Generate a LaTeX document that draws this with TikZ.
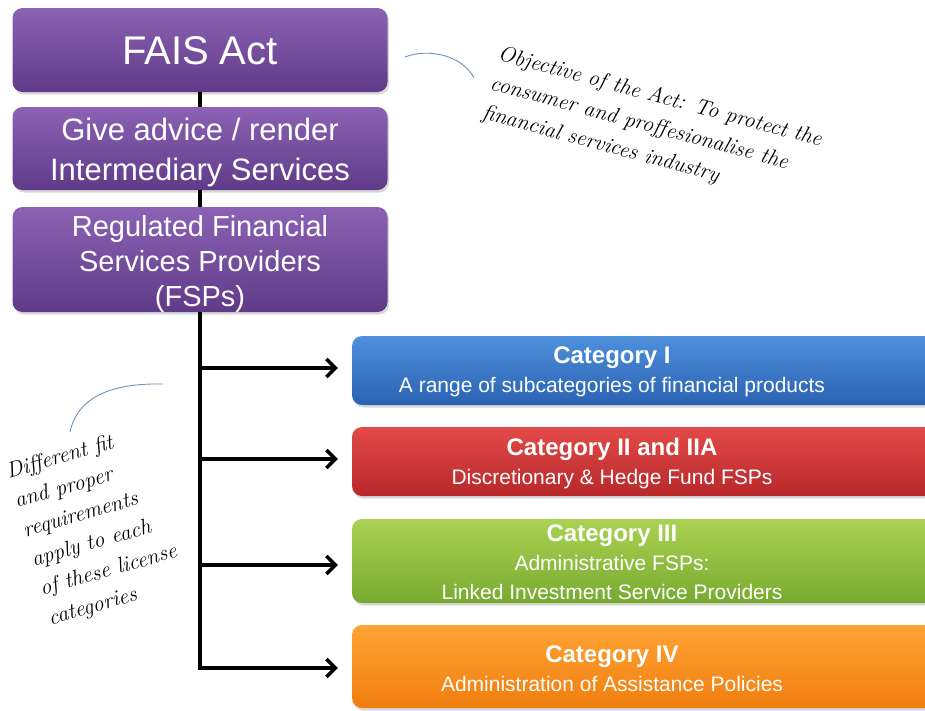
\documentclass[tikz,border=0pt]{standalone}
\usepackage{fontspec}
\setmainfont{Liberation Sans}
\newfontfamily\handfont{Latin Modern Roman}
\usetikzlibrary{arrows.meta,shadows,calc}
\definecolor{purpT}{HTML}{8C62B4}
\definecolor{purpB}{HTML}{603A88}
\definecolor{blueT}{HTML}{4E90DC}
\definecolor{blueB}{HTML}{2A62B2}
\definecolor{redT}{HTML}{E24A48}
\definecolor{redB}{HTML}{B8282A}
\definecolor{greenT}{HTML}{AAD252}
\definecolor{greenB}{HTML}{78AA30}
\definecolor{oranT}{HTML}{FFA434}
\definecolor{oranB}{HTML}{F07E10}
\definecolor{arcc}{HTML}{7090B8}
\tikzset{
  box/.style={rounded corners=10pt, text=white, align=center, inner sep=0pt,
    drop shadow={shadow xshift=1.5pt, shadow yshift=-2.5pt, opacity=0.3}},
  purp/.style={box, top color=purpT, bottom color=purpB, minimum width=375pt},
  ptext/.style={text=white, align=center, inner sep=0pt},
  cat/.style={box, minimum width=590pt},
  cattext/.style={text=white, align=center, inner sep=0pt, font=\fontsize{21}{29}\selectfont},
  conn/.style={line width=4pt, black},
  arr/.style={line width=4pt, black, -{Straight Barb[length=9pt,width=18pt,line width=3.5pt]}, shorten >=14pt},
  hand/.style={font=\handfont\itshape\fontsize{22}{30.5}\selectfont, align=left, inner sep=0pt},
  arcline/.style={draw=arcc, line width=0.9pt}
}
\newcommand{\cattitle}[1]{{\bfseries\fontsize{24}{28}\selectfont #1}}
\begin{document}
\begin{tikzpicture}[x=1pt,y=-1pt]
\useasboundingbox (0,0) rectangle (925,710);
\node[purp, minimum height=84pt] (fais) at (200,50) {};
\node[ptext, font=\fontsize{40}{44}\selectfont] (faist) at (200,51) {FAIS Act};
\node[purp, minimum height=83pt] (give) at (200,148.5) {};
\node[ptext, font=\fontsize{31}{40}\selectfont] (givet) at (200,152) {Give advice / render\\Intermediary Services};
\node[purp, minimum height=105pt] (reg) at (200,259.5) {};
\node[ptext, font=\fontsize{29}{35}\selectfont] (regt) at (200,264) {Regulated Financial\\Services Providers\\(FSPs)};

\node[cat, top color=blueT, bottom color=blueB, minimum height=69pt] (c1) at (647,370.5) {};
\node[cattext] (c1t) at (612,372) {\cattitle{Category I}\\A range of subcategories of financial products};
\node[cat, top color=redT, bottom color=redB, minimum height=69pt] (c2) at (647,461.5) {};
\node[cattext] (c2t) at (612,463) {\cattitle{Category II and IIA}\\Discretionary \& Hedge Fund FSPs};
\node[cat, top color=greenT, bottom color=greenB, minimum height=84pt] (c3) at (647,561) {};
\node[cattext] (c3t) at (612,562) {\cattitle{Category III}\\Administrative FSPs:\\Linked Investment Service Providers};
\node[cat, top color=oranT, bottom color=oranB, minimum height=83pt] (c4) at (647,666.5) {};
\node[cattext] (c4t) at (612,669) {\cattitle{Category IV}\\Administration of Assistance Policies};

\coordinate (j1) at (200,368);
\coordinate (j2) at (200,459);
\coordinate (j3) at (200,565);
\coordinate (j4) at (200,668);

\draw[conn] (fais.south) -- (give.north);
\draw[conn] (give.south) -- (reg.north);
\draw[conn] (reg.south) -- ($(j4)+(0,2)$);
\draw[arr] ($(j1)-(2,0)$) -- (j1 -| c1.west);
\draw[arr] ($(j2)-(2,0)$) -- (j2 -| c2.west);
\draw[arr] ($(j3)-(2,0)$) -- (j3 -| c3.west);
\draw[arr] ($(j4)-(2,0)$) -- (j4 -| c4.west);

\draw[arcline] (405,57) .. controls (428,48) and (462,55) .. (474,78);
\node[hand, rotate=-15] (obj) at (652,127) {Objective of the Act: To protect the\\consumer and proffesionalise the\\financial services industry};

\draw[arcline] (70,432) .. controls (78,395) and (115,383) .. (163,384);
\node[hand, rotate=16] (diff) at (96,527) {Different fit\\and proper\\requirements\\apply to each\\of these license\\categories};
\end{tikzpicture}
\end{document}
